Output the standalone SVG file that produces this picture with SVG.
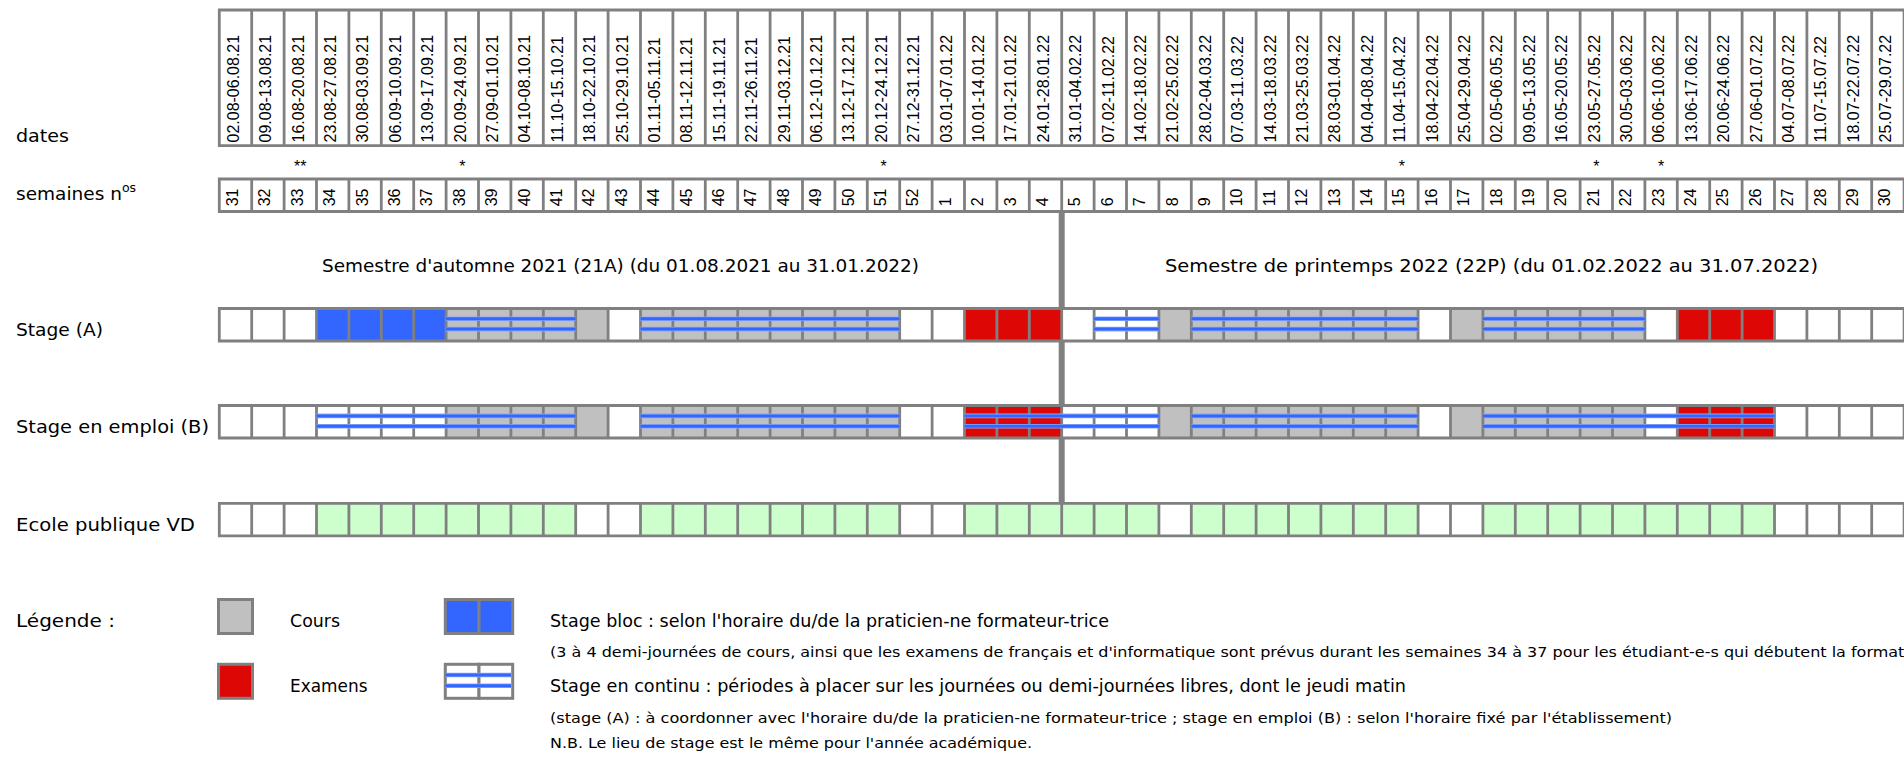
<svg xmlns="http://www.w3.org/2000/svg" xmlns:xlink="http://www.w3.org/1999/xlink" width="1904" height="759" viewBox="0 0 1904 759">
<style>
.grid{fill:none;stroke:#808080;stroke-width:2.8;stroke-linecap:square}
.wh{fill:#FFFFFF}
.gy{fill:#C0C0C0}
.bl{fill:#3366FF}
.rd{fill:#DD0806}
.gn{fill:#CCFFCC}
.halo{stroke:#88A8FF;stroke-width:4.6;fill:none}
.ln{stroke:#3366FF;stroke-width:3;fill:none}
.lab{font-family:"DejaVu Sans",sans-serif;font-size:18.5px;fill:#000}
.leg{font-family:"DejaVu Sans",sans-serif;font-size:17px;fill:#000}
.sm{font-family:"DejaVu Sans",sans-serif;font-size:14.5px;fill:#000}
.dt{font-family:"Liberation Sans",Arial,sans-serif;font-size:16px;fill:#000}
.st{font-family:"Liberation Sans",Arial,sans-serif;font-size:16px;fill:#000;text-anchor:middle}
</style>
<defs>
<path id="rowgrid" class="grid" d="M219.3 0H1904.1M219.3 32.5H1904.1M219.3 0v32.5M251.7 0v32.5M284.1 0v32.5M316.5 0v32.5M348.9 0v32.5M381.3 0v32.5M413.7 0v32.5M446.1 0v32.5M478.5 0v32.5M510.9 0v32.5M543.3 0v32.5M575.7 0v32.5M608.1 0v32.5M640.5 0v32.5M672.9 0v32.5M705.3 0v32.5M737.7 0v32.5M770.1 0v32.5M802.5 0v32.5M834.9 0v32.5M867.3 0v32.5M899.7 0v32.5M932.1 0v32.5M964.5 0v32.5M996.9 0v32.5M1029.3 0v32.5M1061.7 0v32.5M1094.1 0v32.5M1126.5 0v32.5M1158.9 0v32.5M1191.3 0v32.5M1223.7 0v32.5M1256.1 0v32.5M1288.5 0v32.5M1320.9 0v32.5M1353.3 0v32.5M1385.7 0v32.5M1418.1 0v32.5M1450.5 0v32.5M1482.9 0v32.5M1515.3 0v32.5M1547.7 0v32.5M1580.1 0v32.5M1612.5 0v32.5M1644.9 0v32.5M1677.3 0v32.5M1709.7 0v32.5M1742.1 0v32.5M1774.5 0v32.5M1806.9 0v32.5M1839.3 0v32.5M1871.7 0v32.5M1904.1 0v32.5"/>
</defs>
<rect width="1904" height="759" fill="#FFFFFF"/>

<!-- row labels -->
<g id="labels">
<text class="lab" x="16" y="142" textLength="53" lengthAdjust="spacingAndGlyphs">dates</text>
<text class="lab" x="16" y="200">semaines n<tspan font-size="12.5" dy="-8">os</tspan></text>
<text class="lab" x="16" y="335.5" textLength="87" lengthAdjust="spacingAndGlyphs">Stage (A)</text>
<text class="lab" x="16" y="433" textLength="193" lengthAdjust="spacingAndGlyphs">Stage en emploi (B)</text>
<text class="lab" x="16" y="530.5" textLength="179" lengthAdjust="spacingAndGlyphs">Ecole publique VD</text>
</g>

<!-- dates row -->
<g id="dates">
<rect class="wh" x="219.3" y="10" width="1684.8" height="135.7"/>
<path class="grid" d="M219.3 10H1904.1M219.3 145.7H1904.1M219.3 10v135.7M251.7 10v135.7M284.1 10v135.7M316.5 10v135.7M348.9 10v135.7M381.3 10v135.7M413.7 10v135.7M446.1 10v135.7M478.5 10v135.7M510.9 10v135.7M543.3 10v135.7M575.7 10v135.7M608.1 10v135.7M640.5 10v135.7M672.9 10v135.7M705.3 10v135.7M737.7 10v135.7M770.1 10v135.7M802.5 10v135.7M834.9 10v135.7M867.3 10v135.7M899.7 10v135.7M932.1 10v135.7M964.5 10v135.7M996.9 10v135.7M1029.3 10v135.7M1061.7 10v135.7M1094.1 10v135.7M1126.5 10v135.7M1158.9 10v135.7M1191.3 10v135.7M1223.7 10v135.7M1256.1 10v135.7M1288.5 10v135.7M1320.9 10v135.7M1353.3 10v135.7M1385.7 10v135.7M1418.1 10v135.7M1450.5 10v135.7M1482.9 10v135.7M1515.3 10v135.7M1547.7 10v135.7M1580.1 10v135.7M1612.5 10v135.7M1644.9 10v135.7M1677.3 10v135.7M1709.7 10v135.7M1742.1 10v135.7M1774.5 10v135.7M1806.9 10v135.7M1839.3 10v135.7M1871.7 10v135.7M1904.1 10v135.7"/>
<g transform="rotate(-90)" class="dt">
<text x="-142.5" y="238.8">02.08-06.08.21</text>
<text x="-142.5" y="271.2">09.08-13.08.21</text>
<text x="-142.5" y="303.6">16.08-20.08.21</text>
<text x="-142.5" y="336">23.08-27.08.21</text>
<text x="-142.5" y="368.4">30.08-03.09.21</text>
<text x="-142.5" y="400.8">06.09-10.09.21</text>
<text x="-142.5" y="433.2">13.09-17.09.21</text>
<text x="-142.5" y="465.6">20.09-24.09.21</text>
<text x="-142.5" y="498">27.09-01.10.21</text>
<text x="-142.5" y="530.4">04.10-08.10.21</text>
<text x="-142.5" y="562.8">11.10-15.10.21</text>
<text x="-142.5" y="595.2">18.10-22.10.21</text>
<text x="-142.5" y="627.6">25.10-29.10.21</text>
<text x="-142.5" y="660">01.11-05.11.21</text>
<text x="-142.5" y="692.4">08.11-12.11.21</text>
<text x="-142.5" y="724.8">15.11-19.11.21</text>
<text x="-142.5" y="757.2">22.11-26.11.21</text>
<text x="-142.5" y="789.6">29.11-03.12.21</text>
<text x="-142.5" y="822">06.12-10.12.21</text>
<text x="-142.5" y="854.4">13.12-17.12.21</text>
<text x="-142.5" y="886.8">20.12-24.12.21</text>
<text x="-142.5" y="919.2">27.12-31.12.21</text>
<text x="-142.5" y="951.6">03.01-07.01.22</text>
<text x="-142.5" y="984">10.01-14.01.22</text>
<text x="-142.5" y="1016.4">17.01-21.01.22</text>
<text x="-142.5" y="1048.8">24.01-28.01.22</text>
<text x="-142.5" y="1081.2">31.01-04.02.22</text>
<text x="-142.5" y="1113.6">07.02-11.02.22</text>
<text x="-142.5" y="1146">14.02-18.02.22</text>
<text x="-142.5" y="1178.4">21.02-25.02.22</text>
<text x="-142.5" y="1210.8">28.02-04.03.22</text>
<text x="-142.5" y="1243.2">07.03-11.03.22</text>
<text x="-142.5" y="1275.6">14.03-18.03.22</text>
<text x="-142.5" y="1308">21.03-25.03.22</text>
<text x="-142.5" y="1340.4">28.03-01.04.22</text>
<text x="-142.5" y="1372.8">04.04-08.04.22</text>
<text x="-142.5" y="1405.2">11.04-15.04.22</text>
<text x="-142.5" y="1437.6">18.04-22.04.22</text>
<text x="-142.5" y="1470">25.04-29.04.22</text>
<text x="-142.5" y="1502.4">02.05-06.05.22</text>
<text x="-142.5" y="1534.8">09.05-13.05.22</text>
<text x="-142.5" y="1567.2">16.05-20.05.22</text>
<text x="-142.5" y="1599.6">23.05-27.05.22</text>
<text x="-142.5" y="1632">30.05-03.06.22</text>
<text x="-142.5" y="1664.4">06.06-10.06.22</text>
<text x="-142.5" y="1696.8">13.06-17.06.22</text>
<text x="-142.5" y="1729.2">20.06-24.06.22</text>
<text x="-142.5" y="1761.6">27.06-01.07.22</text>
<text x="-142.5" y="1794">04.07-08.07.22</text>
<text x="-142.5" y="1826.4">11.07-15.07.22</text>
<text x="-142.5" y="1858.8">18.07-22.07.22</text>
<text x="-142.5" y="1891.2">25.07-29.07.22</text>
</g>
</g>

<!-- stars -->
<g id="stars" class="st">
<text x="300.3" y="172">**</text>
<text x="462.3" y="172">*</text>
<text x="883.5" y="172">*</text>
<text x="1401.9" y="172">*</text>
<text x="1596.3" y="172">*</text>
<text x="1661.1" y="172">*</text>
</g>

<!-- weeks row -->
<g id="weeks">
<rect class="wh" x="219.3" y="179" width="1684.8" height="32.5"/>
<use xlink:href="#rowgrid" href="#rowgrid" y="179"/>
<g transform="rotate(-90)" class="dt">
<text x="-206.3" y="238">31</text>
<text x="-206.3" y="270.4">32</text>
<text x="-206.3" y="302.8">33</text>
<text x="-206.3" y="335.2">34</text>
<text x="-206.3" y="367.6">35</text>
<text x="-206.3" y="400">36</text>
<text x="-206.3" y="432.4">37</text>
<text x="-206.3" y="464.8">38</text>
<text x="-206.3" y="497.2">39</text>
<text x="-206.3" y="529.6">40</text>
<text x="-206.3" y="562">41</text>
<text x="-206.3" y="594.4">42</text>
<text x="-206.3" y="626.8">43</text>
<text x="-206.3" y="659.2">44</text>
<text x="-206.3" y="691.6">45</text>
<text x="-206.3" y="724">46</text>
<text x="-206.3" y="756.4">47</text>
<text x="-206.3" y="788.8">48</text>
<text x="-206.3" y="821.2">49</text>
<text x="-206.3" y="853.6">50</text>
<text x="-206.3" y="886">51</text>
<text x="-206.3" y="918.4">52</text>
<text x="-206.3" y="950.8">1</text>
<text x="-206.3" y="983.2">2</text>
<text x="-206.3" y="1015.6">3</text>
<text x="-206.3" y="1048">4</text>
<text x="-206.3" y="1080.4">5</text>
<text x="-206.3" y="1112.8">6</text>
<text x="-206.3" y="1145.2">7</text>
<text x="-206.3" y="1177.6">8</text>
<text x="-206.3" y="1210">9</text>
<text x="-206.3" y="1242.4">10</text>
<text x="-206.3" y="1274.8">11</text>
<text x="-206.3" y="1307.2">12</text>
<text x="-206.3" y="1339.6">13</text>
<text x="-206.3" y="1372">14</text>
<text x="-206.3" y="1404.4">15</text>
<text x="-206.3" y="1436.8">16</text>
<text x="-206.3" y="1469.2">17</text>
<text x="-206.3" y="1501.6">18</text>
<text x="-206.3" y="1534">19</text>
<text x="-206.3" y="1566.4">20</text>
<text x="-206.3" y="1598.8">21</text>
<text x="-206.3" y="1631.2">22</text>
<text x="-206.3" y="1663.6">23</text>
<text x="-206.3" y="1696">24</text>
<text x="-206.3" y="1728.4">25</text>
<text x="-206.3" y="1760.8">26</text>
<text x="-206.3" y="1793.2">27</text>
<text x="-206.3" y="1825.6">28</text>
<text x="-206.3" y="1858">29</text>
<text x="-206.3" y="1890.4">30</text>
</g>
</g>

<!-- semester divider -->
<g id="connectors">
<rect x="1058.7" y="211" width="6" height="293" fill="#808080"/>
</g>

<!-- semester titles -->
<g id="semesters" class="lab">
<text x="322" y="271.7" textLength="597" lengthAdjust="spacingAndGlyphs">Semestre d'automne 2021 (21A) (du 01.08.2021 au 31.01.2022)</text>
<text x="1165" y="271.7" textLength="653" lengthAdjust="spacingAndGlyphs">Semestre de printemps 2022 (22P) (du 01.02.2022 au 31.07.2022)</text>
</g>

<!-- Stage (A) -->
<g id="rowA">
<rect class="wh" x="219.3" y="308.5" width="1684.8" height="32.5"/>
<rect class="bl" x="316.5" y="308.5" width="129.6" height="32.5"/>
<rect class="gy" x="446.1" y="308.5" width="162" height="32.5"/>
<rect class="gy" x="640.5" y="308.5" width="259.2" height="32.5"/>
<rect class="rd" x="964.5" y="308.5" width="97.2" height="32.5"/>
<rect class="gy" x="1158.9" y="308.5" width="259.2" height="32.5"/>
<rect class="gy" x="1450.5" y="308.5" width="194.4" height="32.5"/>
<rect class="rd" x="1677.3" y="308.5" width="97.2" height="32.5"/>
<use xlink:href="#rowgrid" href="#rowgrid" y="308.5"/>
<path class="halo" d="M446.1 318.7H575.7M446.1 329.1H575.7M640.5 318.7H899.7M640.5 329.1H899.7M1094.1 318.7H1158.9M1094.1 329.1H1158.9M1191.3 318.7H1418.1M1191.3 329.1H1418.1M1482.9 318.7H1644.9M1482.9 329.1H1644.9"/>
<path class="ln" d="M446.1 318.7H575.7M446.1 329.1H575.7M640.5 318.7H899.7M640.5 329.1H899.7M1094.1 318.7H1158.9M1094.1 329.1H1158.9M1191.3 318.7H1418.1M1191.3 329.1H1418.1M1482.9 318.7H1644.9M1482.9 329.1H1644.9"/>
</g>

<!-- Stage en emploi (B) -->
<g id="rowB">
<rect class="wh" x="219.3" y="405.5" width="1684.8" height="32.5"/>
<rect class="gy" x="446.1" y="405.5" width="162" height="32.5"/>
<rect class="gy" x="640.5" y="405.5" width="259.2" height="32.5"/>
<rect class="rd" x="964.5" y="405.5" width="97.2" height="32.5"/>
<rect class="gy" x="1158.9" y="405.5" width="259.2" height="32.5"/>
<rect class="gy" x="1450.5" y="405.5" width="194.4" height="32.5"/>
<rect class="rd" x="1677.3" y="405.5" width="97.2" height="32.5"/>
<use xlink:href="#rowgrid" href="#rowgrid" y="405.5"/>
<path class="halo" d="M316.5 415.9H575.7M316.5 426.3H575.7M640.5 415.9H899.7M640.5 426.3H899.7M964.5 415.9H1158.9M964.5 426.3H1158.9M1191.3 415.9H1418.1M1191.3 426.3H1418.1M1482.9 415.9H1774.5M1482.9 426.3H1774.5"/>
<path class="ln" d="M316.5 415.9H575.7M316.5 426.3H575.7M640.5 415.9H899.7M640.5 426.3H899.7M964.5 415.9H1158.9M964.5 426.3H1158.9M1191.3 415.9H1418.1M1191.3 426.3H1418.1M1482.9 415.9H1774.5M1482.9 426.3H1774.5"/>
</g>

<!-- Ecole publique VD -->
<g id="rowEcole">
<rect class="wh" x="219.3" y="503.3" width="1684.8" height="32.5"/>
<rect class="gn" x="316.5" y="503.3" width="259.2" height="32.5"/>
<rect class="gn" x="640.5" y="503.3" width="259.2" height="32.5"/>
<rect class="gn" x="964.5" y="503.3" width="194.4" height="32.5"/>
<rect class="gn" x="1191.3" y="503.3" width="226.8" height="32.5"/>
<rect class="gn" x="1482.9" y="503.3" width="291.6" height="32.5"/>
<use xlink:href="#rowgrid" href="#rowgrid" y="503.3"/>
</g>

<!-- legend -->
<g id="legend">
<text class="lab" x="16" y="626.5" textLength="99" lengthAdjust="spacingAndGlyphs">Légende :</text>
<rect class="gy" x="218.5" y="599.5" width="34" height="34" stroke="#808080" stroke-width="3"/>
<text class="lab" x="290" y="626.5" textLength="50" lengthAdjust="spacingAndGlyphs">Cours</text>
<rect class="rd" x="218.5" y="664.3" width="34" height="34" stroke="#808080" stroke-width="3"/>
<text class="lab" x="290" y="691.5" textLength="77.5" lengthAdjust="spacingAndGlyphs">Examens</text>
<rect class="bl" x="445.3" y="599.5" width="33.7" height="34" stroke="#808080" stroke-width="3"/>
<rect class="bl" x="479" y="599.5" width="33.7" height="34" stroke="#808080" stroke-width="3"/>
<rect class="wh" x="445.3" y="664.3" width="33.7" height="34" stroke="#808080" stroke-width="3"/>
<rect class="wh" x="479" y="664.3" width="33.7" height="34" stroke="#808080" stroke-width="3"/>
<path class="halo" d="M445.3 675H511M445.3 685.7H511"/>
<path class="ln" d="M445.3 675H511M445.3 685.7H511"/>
<text class="leg" x="550" y="626.5" textLength="559" lengthAdjust="spacingAndGlyphs">Stage bloc : selon l'horaire du/de la praticien-ne formateur-trice</text>
<text class="sm" x="550" y="656.7" textLength="1385" lengthAdjust="spacingAndGlyphs">(3 à 4 demi-journées de cours, ainsi que les examens de français et d'informatique sont prévus durant les semaines 34 à 37 pour les étudiant-e-s qui débutent la formation)</text>
<text class="leg" x="550" y="691.5" textLength="856" lengthAdjust="spacingAndGlyphs">Stage en continu : périodes à placer sur les journées ou demi-journées libres, dont le jeudi matin</text>
<text class="sm" x="550" y="723" textLength="1122" lengthAdjust="spacingAndGlyphs">(stage (A) : à coordonner avec l'horaire du/de la praticien-ne formateur-trice ; stage en emploi (B) : selon l'horaire fixé par l'établissement)</text>
<text class="sm" x="550" y="748" textLength="482" lengthAdjust="spacingAndGlyphs">N.B. Le lieu de stage est le même pour l'année académique.</text>
</g>
</svg>
